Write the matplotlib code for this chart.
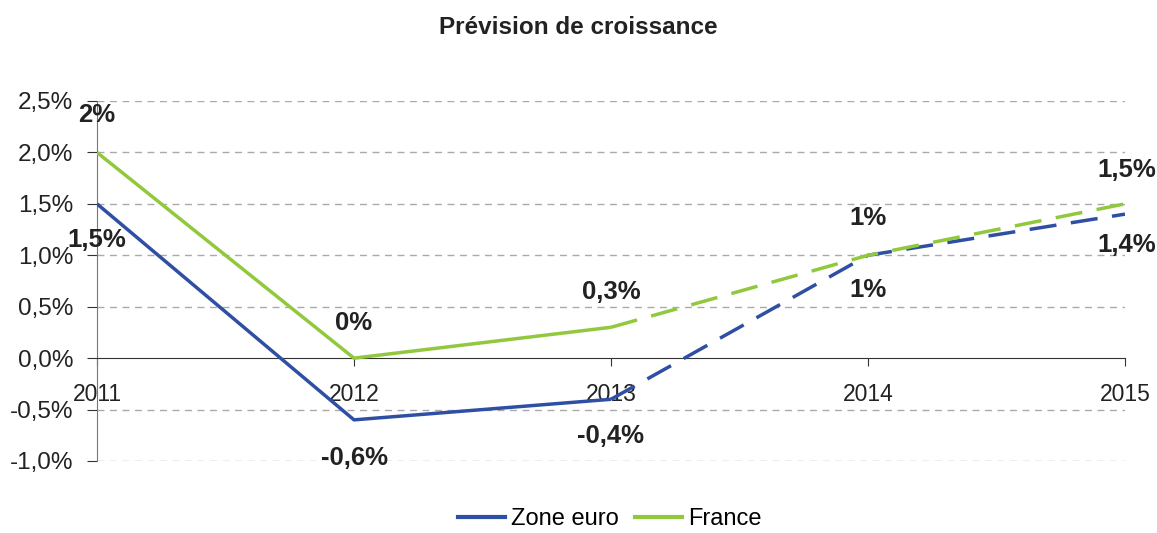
import matplotlib
matplotlib.use("Agg")
import matplotlib.pyplot as plt
from matplotlib.lines import Line2D

plt.rcParams['font.family'] = ['Liberation Sans', 'DejaVu Sans']
plt.rcParams['lines.scale_dashes'] = False

years = [2011, 2012, 2013, 2014, 2015]
zone_euro = [1.5, -0.6, -0.4, 1.0, 1.4]
france = [2.0, 0.0, 0.3, 1.0, 1.5]
euro_labels = ["1,5%", "-0,6%", "-0,4%", "1%", "1,4%"]
france_labels = ["2%", "0%", "0,3%", "1%", "1,5%"]
yticks = [-1.0, -0.5, 0.0, 0.5, 1.0, 1.5, 2.0, 2.5]
ytick_labels = ["-1,0%", "-0,5%", "0,0%", "0,5%", "1,0%", "1,5%", "2,0%", "2,5%"]

blue = "#2E4FA3"
green = "#92C83E"
txt = "#222222"

fig = plt.figure(figsize=(11.57, 5.33), dpi=100)
ax = fig.add_axes([97/1157, 1-461/533, (1125-97)/1157, (461-101)/533])

ax.set_xlim(2011, 2015)
ax.set_ylim(-1.0, 2.5)

for y in yticks:
    if y != 0:
        ax.axhline(y, color="#aaaaaa", lw=1, ls=(0, (5, 4)), zorder=0)

lw = 2.5
dash = (0, (19.5, 10.5))
ax.plot(years[:3], zone_euro[:3], color=blue, lw=lw, solid_capstyle='butt', zorder=3)
ax.plot(years[2:], zone_euro[2:], color=blue, lw=lw, ls=dash, dash_capstyle='butt', zorder=3)
ax.plot(years[:3], france[:3], color=green, lw=lw, solid_capstyle='butt', zorder=4)
ax.plot(years[2:], france[2:], color=green, lw=lw, ls=dash, dash_capstyle='butt', zorder=4)

for spine in ['top', 'right']:
    ax.spines[spine].set_visible(False)
ax.spines['bottom'].set_position(('data', 0))
ax.spines['left'].set_color("#777777")
ax.spines['bottom'].set_color("#333333")

ax.set_yticks(yticks)
ax.set_yticklabels(ytick_labels, fontsize=17.5, color=txt)
ax.set_xticks(years)
ax.set_xticklabels([str(y) for y in years], fontsize=16.5, color=txt)
ax.tick_params(axis='y', direction='out', length=7, color="#333333", pad=10)
ax.tick_params(axis='x', direction='out', length=6, color="#333333", pad=12)

fr_off = [37, 35, 35, 37, 34]
eu_off = [-36, -38, -37, -35, -31]
for i, x in enumerate(years):
    dx = 2 if i == 4 else 0
    ax.annotate(france_labels[i], (x, france[i]), xytext=(dx, fr_off[i]), textcoords='offset pixels',
                ha='center', va='center', fontsize=18.5, fontweight='bold', color=txt, annotation_clip=False)
    ax.annotate(euro_labels[i], (x, zone_euro[i]), xytext=(dx, eu_off[i]), textcoords='offset pixels',
                ha='center', va='center', fontsize=18.5, fontweight='bold', color=txt, annotation_clip=False)

fig.text(0.5, 1-28/533, "Prévision de croissance", ha='center', va='center',
         fontsize=17.5, fontweight='bold', color=txt)

handles = [Line2D([], [], color=blue, lw=3), Line2D([], [], color=green, lw=3)]
fig.legend(handles, ["Zone euro", "France"], loc='center', bbox_to_anchor=(0.527, 1-519/533),
           ncol=2, frameon=False, fontsize=17, handlelength=2.0, handletextpad=0.25, columnspacing=0.7)

fig.savefig("out.png", dpi=100)
